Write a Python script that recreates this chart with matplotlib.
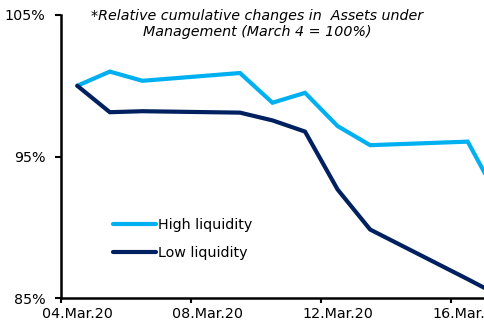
import matplotlib
matplotlib.use("Agg")
import matplotlib.pyplot as plt

# Data (March 2020 trading days)
days = [4, 5, 6, 9, 10, 11, 12, 13, 16, 17]
high_liquidity = [100.0, 101.0, 100.35, 100.9, 98.8, 99.5, 97.15, 95.8, 96.05, 91.8]
low_liquidity = [100.0, 98.13, 98.2, 98.1, 97.55, 96.76, 92.67, 89.84, 86.33, 85.13]
tick_days = [4, 8, 12, 16]
tick_labels = ["04.Mar.20", "08.Mar.20", "12.Mar.20", "16.Mar.20"]
y_ticks = [85, 95, 105]
y_labels = ["85%", "95%", "105%"]

plt.rcParams['font.family'] = ['DejaVu Sans']

fig = plt.figure(figsize=(4.84, 3.30), dpi=100)
ax = fig.add_axes([61/484, 1 - 298/330, 1 - 61/484, (298 - 15)/330])

ax.plot(days, high_liquidity, color="#00B0F0", lw=3.0, label="High liquidity",
        solid_capstyle="round", solid_joinstyle="miter")
ax.plot(days, low_liquidity, color="#002060", lw=3.0, label="Low liquidity",
        solid_capstyle="round", solid_joinstyle="miter")

ax.set_xlim(3.5, 16.5)
ax.set_ylim(85, 105)
# tick marks sit between categories, labels centred on the category
ax.set_xticks([d - 0.5 for d in tick_days])
ax.set_xticklabels([])
ax.set_xticks(tick_days, minor=True)
ax.set_xticklabels(tick_labels, minor=True, fontsize=10.3)
ax.set_yticks(y_ticks)
ax.set_yticklabels(y_labels, fontsize=10.3)

for s in ["top", "right"]:
    ax.spines[s].set_visible(False)
for s in ["left", "bottom"]:
    ax.spines[s].set_linewidth(1.8)
    ax.spines[s].set_color("black")
ax.tick_params(axis="y", direction="out", length=4.3, width=1.5, colors="black", pad=7)
ax.tick_params(axis="x", which="major", direction="out", length=3.5, width=1.5, colors="black")
ax.tick_params(axis="x", which="minor", length=0, pad=6.5, colors="black")

fig.text(257/484, 1 - 16/330, "*Relative cumulative changes in  Assets under",
         ha="center", va="center", style="italic", fontsize=10.3)
fig.text(257/484, 1 - 32/330, "Management (March 4 = 100%)",
         ha="center", va="center", style="italic", fontsize=10.3)

leg = ax.legend(loc="upper left", bbox_to_anchor=(113/484, 1 - 218/330),
                bbox_transform=fig.transFigure, frameon=False, fontsize=10.3,
                handlelength=3.0, handletextpad=0.15, labelspacing=0.95,
                borderpad=0, borderaxespad=0)

fig.savefig("out.png", dpi=100)
